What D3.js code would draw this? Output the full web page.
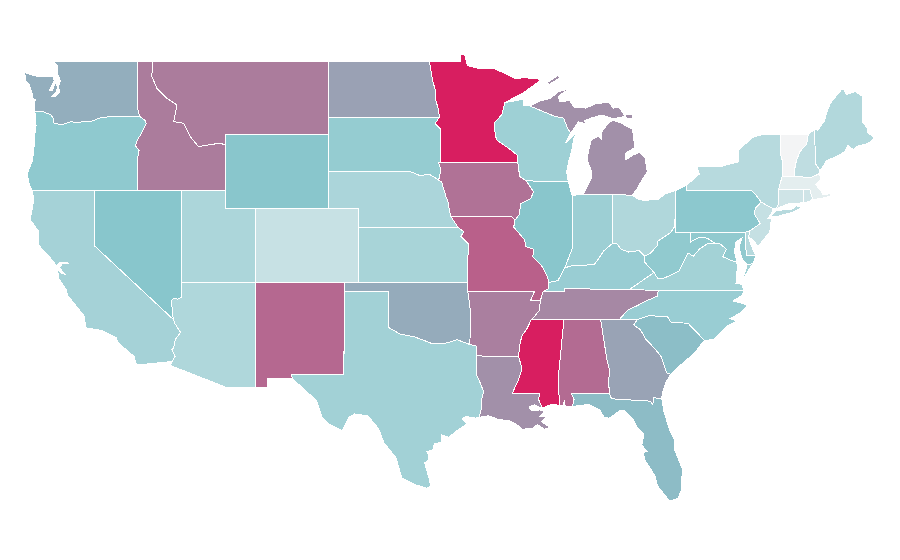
<!DOCTYPE html>
<html>
<head>
<meta charset="utf-8">
<title>US states choropleth</title>
<script src="https://d3js.org/d3.v7.min.js"></script>
<style>
  html, body { margin: 0; background: #fff; }
  svg { display: block; }
  .state { stroke: #fff; stroke-width: 1; shape-rendering: crispEdges; }
</style>
</head>
<body>
<svg width="900" height="560"></svg>
<script>
// values, 0 = palest, 50 = teal, 100 = deep pink
const stateCodes = ["AL","AZ","AR","CA","CO","CT","DE","FL","GA","ID","IL","IN","IA","KS","KY","LA","ME","MD","MA","MI","MN","MS","MO","MT","NE","NV","NH","NJ","NM","NY","NC","ND","OH","OK","OR","PA","RI","SC","SD","TN","TX","UT","VT","VA","WA","WV","WI","WY"];
const stateRates = [77,32,71,36.5,20.5,17,29,53,60.5,72,49.5,40,75,35,42,66,30.5,46,7,66,100,100,80.5,72,33.5,50,24.5,21.5,78,28,42,61,31.5,58,46.5,48,17,52.5,44,68.5,38,33,0,37.5,57,46,39.5,49.5];
const rateStops = [0, 50, 100];
const rateColors = ["#f3f4f5", "#88c6cc", "#d81e60"];

// shared borders, lon/lat
const columbia = [[-116.92,46],[-118.98,46],[-119.3,45.93],[-119.6,45.92],[-120.2,45.73],[-120.65,45.74],[-121.2,45.65],[-121.55,45.72],[-122.1,45.58],[-122.3,45.55],[-122.75,45.65],[-122.8,45.9],[-122.95,46.1],[-123.2,46.15],[-123.45,46.25],[-123.7,46.27],[-124.05,46.27]];
const snake = [[-117.03,43.83],[-116.95,44.15],[-117.2,44.4],[-117.05,44.75],[-116.85,45],[-116.68,45.25],[-116.47,45.6],[-116.55,45.78],[-116.92,46]];
const idahoMontana = [[-116.05,49],[-116.08,48.15],[-115.74,47.52],[-115.06,46.98],[-114.38,46.62],[-114.6,45.71],[-113.93,45.63],[-113.48,44.9],[-112.91,44.36],[-111.55,44.54],[-111.05,44.47]];
const coloradoRiver = [[-114.05,36.2],[-114.35,36.1],[-114.55,36.15],[-114.74,36.05],[-114.7,35.5],[-114.63,35],[-114.5,34.75],[-114.14,34.3],[-114.5,33.9],[-114.6,33.45],[-114.72,33.38],[-114.5,33],[-114.72,32.72]];
const redRiverNorth = [[-97.23,49],[-97.13,48.5],[-97,47.9],[-96.85,47.5],[-96.83,46.95],[-96.6,46.35],[-96.56,45.94]];
const sdMnBorder = [[-96.56,45.94],[-96.85,45.6],[-96.45,45.3],[-96.45,43.5]];
const iowaWest = [[-96.6,43.5],[-96.45,43.1],[-96.6,42.55],[-96.4,42.45],[-96.25,42.05],[-96.1,41.65],[-95.93,41.3],[-95.88,40.9],[-95.77,40.58]];
const nebraskaNorth = [[-104.05,43],[-98.5,43],[-97.9,42.8],[-97.2,42.85],[-96.6,42.55]];
const kansasEast = [[-95.3,40],[-94.9,39.75],[-95.1,39.5],[-94.6,39.1],[-94.62,37]];
const redRiverSouth = [[-100,34.56],[-99.2,34.2],[-98.3,34.07],[-97.72,33.9],[-97.15,33.72],[-96.25,33.68],[-95.35,33.9],[-94.48,33.64],[-94.04,33.55]];
const sabine = [[-94.04,32],[-93.8,31.6],[-93.55,31.1],[-93.72,30.5],[-93.72,30.1],[-93.85,29.7]];
const superiorToIowa = [[-92.1,46.75],[-92.3,46.1],[-92.84,45.63],[-92.75,45],[-92.66,44.72],[-91.9,44.3],[-91.25,43.9],[-91.22,43.5]];
const iowaEastUpper = [[-91.22,43.5],[-91.1,42.75],[-90.65,42.5]];
const iowaIllinois = [[-90.65,42.5],[-90.15,41.9],[-90.35,41.55],[-91.05,41.25],[-91.1,40.7],[-91.42,40.38]];
const missouriIllinois = [[-91.42,40.38],[-91.5,40],[-90.75,39.3],[-90.7,38.95],[-90.15,38.8],[-90.2,38.4],[-89.6,37.9],[-89.2,37.3],[-89.13,37]];
const bootheel = [[-89.13,37],[-89.15,36.65],[-89.5,36.5]];
const riverTennessee = [[-89.5,36.5],[-89.7,36],[-89.75,35.5],[-90.1,35.15],[-90.3,35]];
const riverArkansas = [[-90.3,35],[-90.6,34.5],[-90.95,34.1],[-91.1,33.6],[-91.17,33]];
const riverLouisiana = [[-91.17,33],[-91,32.5],[-90.95,32.3],[-91.2,31.7],[-91.6,31]];
const ohioWest = [[-89.13,37],[-88.5,37.1],[-88.03,37.8]];
const ohioMiddle = [[-88.03,37.8],[-87.55,37.9],[-87,37.9],[-86.5,37.95],[-86,38],[-85.75,38.27],[-85.4,38.7],[-84.82,39.1]];
const ohioEast = [[-84.82,39.1],[-84.5,39.1],[-84.2,38.8],[-83.7,38.65],[-83,38.73],[-82.6,38.42]];
const ohioUpper = [[-82.6,38.42],[-82.2,38.6],[-81.75,39],[-81.7,39.25],[-80.85,39.7],[-80.6,40],[-80.52,40.64]];
const tennesseeNc = [[-81.68,36.59],[-81.73,36.27],[-82.64,35.95],[-83.1,35.75],[-83.77,35.5],[-84.32,35]];
const scNorth = [[-83.1,35],[-82.3,35.2],[-81.05,35.15],[-80.8,34.82],[-79.67,34.8],[-78.55,33.87]];
const savannah = [[-83.1,35],[-83.35,34.7],[-82.9,34.45],[-82.55,33.95],[-81.9,33.4],[-81.5,33],[-81.1,32.1],[-80.85,32.03]];
const gaAlBorder = [[-85.6,35],[-85.18,32.87],[-85,32.3],[-85.05,31.55],[-85,31]];
const mississippiAlabama = [[-88.2,35],[-88.1,34.9],[-88.47,31.9],[-88.4,30.35]];
const potomac = [[-76.35,38.1],[-76.9,38.25],[-77.3,38.4],[-77.05,38.8],[-77.5,39.1],[-77.83,39.13]];
const mdWvBorder = [[-77.83,39.13],[-78.35,39.4],[-78.9,39.45],[-79.48,39.2],[-79.48,39.72]];
const vaWvBorder = [[-77.83,39.13],[-78.35,39.1],[-78.9,38.8],[-79.3,38.42],[-79.65,38.6],[-80.3,37.6],[-81.25,37.25],[-81.7,37.2],[-81.97,37.54]];
const delawareRiver = [[-75.35,42],[-75.05,41.75],[-74.7,41.36]];
const pennNj = [[-74.7,41.36],[-75.1,41],[-75.15,40.7],[-74.75,40.2],[-75.45,39.8]];
const vermontNh = [[-71.5,45],[-71.6,44.5],[-72.05,44.1],[-72.3,43.6],[-72.45,43],[-72.46,42.73]];
const vermontNy = [[-73.35,45],[-73.4,44],[-73.25,43.6],[-73.27,42.75]];
const nhMaine = [[-71.08,45.3],[-70.98,43.4],[-70.7,43.07]];
const upperMichiganSouth = [[-87.62,45.1],[-87.85,45.35],[-88.1,45.9],[-88.7,46],[-89.1,46.13],[-90.42,46.57]];

const rev = a => a.slice().reverse();

const alabama = [...rev(mississippiAlabama),...gaAlBorder,[-87.6,31],[-87.4,30.65],[-87.52,30.28],[-88,30.25],[-88.05,30.65],[-88.15,30.35]];
const arizona = [[-114.05,37],[-109.05,37],[-109.05,31.33],[-111.07,31.33],[-114.81,32.5],...rev(coloradoRiver)];
const arkansas = [[-94.62,36.5],[-90.1,36.5],[-90.37,36],[-89.7,36],...riverTennessee.slice(2),...riverArkansas,[-94.04,33.02],[-94.04,33.55],[-94.48,33.64],[-94.43,35.4]];
const california = [[-120,42],[-120,39],[-114.63,35],[-114.5,34.75],[-114.14,34.3],[-114.5,33.9],[-114.6,33.45],[-114.72,33.38],[-114.5,33],[-114.72,32.72],[-117.12,32.53],[-117.3,33],[-118.4,33.75],[-118.5,34],[-119.5,34.4],[-120.6,34.55],[-120.65,35.15],[-121.8,36.3],[-121.9,36.6],[-122.4,37.2],[-122.5,37.75],[-122.25,37.5],[-122,37.45],[-122.35,37.8],[-122.2,38],[-121.75,38.05],[-122.1,38.1],[-122.45,38.05],[-122.5,37.85],[-122.95,38.3],[-123.75,39],[-123.8,39.8],[-124.35,40.4],[-124.1,41.5],[-124.21,42]];
const colorado = [[-109.05,41],[-102.05,41],[-102.05,37],[-109.05,37]];
const connecticut = [[-73.5,42.05],[-71.8,42.02],[-71.85,41.32],[-72.9,41.25],[-73.65,41],[-73.5,41.3]];
const delaware = [[-75.79,39.72],[-75.45,39.8],[-75.55,39.45],[-75.4,39.05],[-75.05,38.45],[-75.7,38.46]];
const florida = [[-87.6,31],[-85,31],[-84.86,30.7],[-82.2,30.57],[-82.05,30.37],[-82,30.75],[-81.45,30.72],[-81.3,30],[-80.9,29],[-80.55,28.4],[-80.6,28],[-80.05,26.9],[-80.1,25.8],[-80.35,25.3],[-80.9,25.15],[-81.15,25.4],[-81.75,26],[-81.9,26.5],[-82.2,26.9],[-82.6,27.4],[-82.7,27.8],[-82.45,27.85],[-82.8,28.2],[-82.65,28.8],[-83.1,29.15],[-83.4,29.6],[-83.95,30.05],[-84.3,30.05],[-85,29.65],[-85.35,29.68],[-85.65,30.1],[-86.4,30.4],[-87.52,30.28],[-87.4,30.65]];
const georgia = [...gaAlBorder,[-84.86,30.7],[-82.2,30.57],[-82.05,30.37],[-82,30.75],[-81.45,30.72],[-81.4,31],[-81.15,31.6],...rev(savannah)];
const idaho = [[-117.03,49],...idahoMontana,[-111.05,42],[-117.03,42],...snake,[-117.04,46.42]];
const illinois = [[-87.8,42.49],...iowaIllinois,...missouriIllinois.slice(1),...ohioWest.slice(1),[-87.97,37.87],[-87.52,38.86],[-87.53,41.7],[-87.6,41.85]];
const indiana = [[-87.53,41.7],[-87.2,41.75],[-84.8,41.76],...rev(ohioMiddle),[-87.52,38.86]];
const iowa = [[-96.6,43.5],...iowaEastUpper,...iowaIllinois.slice(1),[-91.7,40.6],...rev(iowaWest)];
const kansas = [[-102.05,40],...kansasEast,[-102.05,37]];
const kentucky = [...bootheel.slice(1),[-88.05,36.5],[-88.07,36.68],[-83.68,36.6],[-81.97,37.54],[-82.6,38.1],...rev(ohioEast),...rev(ohioMiddle),...rev(ohioWest)];
const louisiana = [[-94.04,33.02],...riverLouisiana,[-89.73,31],[-89.82,30.67],[-89.55,30.18],[-89.9,30.3],[-90.1,30.38],[-90.45,30.25],[-90.3,30.05],[-89.95,30.05],[-89.75,30.1],[-89.4,30],[-89.7,29.75],[-89.3,29.75],[-89.6,29.45],[-89.05,29.15],[-89.4,29.05],[-89.9,29.3],[-90.2,29.1],[-90.9,29.05],[-91.3,29.3],[-91.8,29.5],[-92.2,29.55],[-92.6,29.6],[-93.2,29.78],...rev(sabine)];
const maine = [[-71.08,45.3],[-70.85,45.25],[-70.4,45.75],[-70.25,46.2],[-70,46.7],[-69.23,47.46],[-69.05,47.42],[-68.9,47.18],[-68.3,47.35],[-67.8,47.07],[-67.8,45.7],[-67.45,45.3],[-67.45,45.1],[-67,44.85],[-67.3,44.6],[-67.6,44.5],[-68.1,44.4],[-68.45,44.2],[-68.8,44.45],[-69,44.1],[-69.3,43.95],[-69.8,43.75],[-70.25,43.6],[-70.55,43.2],[-70.7,43.07],[-70.98,43.4]];
const maryland = [[-79.48,39.72],[-75.79,39.72],[-75.7,38.46],[-75.05,38.45],[-75.25,38.03],[-75.65,37.95],[-76,38.3],[-76.2,38.9],[-76,39.4],[-76.4,39.2],[-76.5,38.7],...potomac,...mdWvBorder.slice(1)];
const massachusetts = [[-73.5,42.05],[-73.27,42.75],[-72.46,42.73],[-71.3,42.7],[-70.8,42.87],[-70.6,42.65],[-71,42.3],[-70.6,41.95],[-70.5,41.78],[-70.05,41.8],[-70.2,42.07],[-69.95,41.7],[-70.6,41.55],[-71.15,41.5],[-71.2,41.5],[-71.38,42.02],[-71.8,42.02]];
const lowerMichigan = [[-86.8,41.76],[-86.25,42.6],[-86.2,43],[-86.5,43.6],[-86.45,44],[-86.25,44.7],[-85.75,44.95],[-85.55,44.75],[-85.5,45.2],[-85,45.7],[-84.7,45.78],[-84.2,45.63],[-83.45,45.3],[-83.35,44.9],[-83.3,44.3],[-83.9,44],[-83.9,43.65],[-83.4,43.9],[-82.95,44.05],[-82.6,43.8],[-82.42,43],[-82.9,42.4],[-83.15,42.05],[-83.45,41.73],[-84.8,41.76]];
const upperMichigan = [...upperMichiganSouth,[-89.7,46.83],[-89,46.98],[-88.45,47.35],[-87.8,47.47],[-88.45,47.1],[-88.4,46.8],[-87.7,46.85],[-87.4,46.5],[-86.6,46.45],[-85.9,46.7],[-85,46.75],[-84.75,46.45],[-84.35,46.5],[-84.1,46.2],[-83.9,46],[-84.72,45.87],[-85.5,46.08],[-86.3,45.9],[-86.7,45.75],[-86.6,45.6],[-87.1,45.7]];
const isleRoyale = [[-89.25,47.82],[-88.5,48.22],[-88.4,48.08],[-89.1,47.72]];
const drummond = [[-83.95,46.12],[-83.4,46.08],[-83.45,45.88],[-83.9,45.92]];
const minnesota = [...redRiverNorth,...sdMnBorder.slice(1),...rev(superiorToIowa),[-90.8,47.3],[-89.6,48],[-90.75,48.1],[-91.4,48.05],[-92,48.3],[-92.95,48.62],[-93.85,48.6],[-94.65,48.75],[-94.82,49.33],[-95.15,49.38],[-95.15,49]];
const mississippi = [...rev(riverLouisiana),...rev(riverArkansas),...mississippiAlabama,[-88.9,30.4],[-89.3,30.3],[-89.55,30.18],[-89.82,30.67],[-89.73,31]];
const missouri = [[-95.77,40.58],[-91.7,40.6],[-91.42,40.38],...missouriIllinois.slice(1),...bootheel.slice(1),[-89.7,36],[-90.37,36],[-90.1,36.5],[-94.62,36.5],...rev(kansasEast)];
const montana = [[-104.05,49],[-104.05,45],[-111.05,45],...rev(idahoMontana)];
const nebraska = [...nebraskaNorth,...iowaWest.slice(3),[-95.3,40],[-102.05,40],[-102.05,41],[-104.05,41]];
const nevada = [[-120,42],[-114.04,42],...coloradoRiver.slice(0,6),[-120,39]];
const newHampshire = [...vermontNh,[-71.3,42.7],[-70.8,42.87],...rev(nhMaine)];
const newJersey = [...pennNj,[-75.55,39.5],[-75.15,39.2],[-74.9,38.95],[-74.1,39.75],[-74,40.45],[-74.25,40.48],[-74,40.7],[-73.9,41]];
const newMexico = [[-109.05,37],[-103,37],[-103.04,32],[-106.62,32],[-106.53,31.78],[-108.2,31.78],[-108.2,31.33],[-109.05,31.33]];
const newYork = [[-79.76,42],[-79.76,42.27],[-78.9,42.87],[-79.05,43.27],[-77.5,43.27],[-76.2,43.55],[-76.25,44.15],[-75.3,44.85],[-74.7,45],...vermontNy,[-73.5,42.05],[-73.5,41.3],[-73.65,41],[-73.9,41],...rev(delawareRiver)];
const longIsland = [[-74,40.6],[-73.7,40.9],[-72.6,40.97],[-72.3,41.15],[-71.9,41.05],[-72.6,40.8],[-73.6,40.58]];
const northCarolina = [[-84.32,35],...rev(tennesseeNc),[-75.87,36.55],[-76,36.3],[-76.6,36],[-75.9,35.85],[-75.65,35.75],[-76.1,35.35],[-76.8,35.05],[-76.35,34.9],[-77,34.65],[-77.9,33.9],...rev(scNorth)];
const northDakota = [[-104.05,49],...redRiverNorth,[-104.05,45.94]];
const ohio = [[-84.8,41.76],[-83.45,41.73],[-83,41.5],[-82.7,41.45],[-81.7,41.5],[-81.2,41.8],[-80.52,41.98],...rev(ohioUpper),...rev(ohioEast)];
const oklahoma = [[-103,37],[-94.62,37],[-94.62,36.5],[-94.43,35.4],[-94.48,33.64],...rev(redRiverSouth.slice(0,8)),[-100,36.5],[-103,36.5]];
const oregon = [...columbia,[-123.98,46],[-123.95,45.5],[-124.05,44.9],[-124.1,44.2],[-124.2,43.6],[-124.4,43.2],[-124.55,42.84],[-124.4,42.3],[-124.21,42],[-117.03,42],...snake];
const pennsylvania = [[-80.52,41.98],[-79.76,42.27],[-79.76,42],...delawareRiver,...pennNj.slice(1),[-75.79,39.72],[-80.52,39.72]];
const rhodeIsland = [[-71.8,42.02],[-71.38,42.02],[-71.2,41.5],[-71.5,41.37],[-71.85,41.32]];
const southCarolina = [...scNorth,[-79.2,33.2],[-79.9,32.7],[-80.45,32.35],...rev(savannah)];
const southDakota = [[-104.05,45.94],...sdMnBorder,...iowaWest.slice(0,3),...rev(nebraskaNorth)];
const tennessee = [...riverTennessee,[-88.2,35],[-85.6,35],...rev(tennesseeNc),[-83.68,36.6],[-88.07,36.68],[-88.05,36.5]];
const texas = [[-103,36.5],[-100,36.5],...redRiverSouth,...sabine,[-94.1,29.65],[-94.75,29.75],[-95,29.6],[-94.7,29.35],[-95.1,29.1],[-95.5,28.9],[-95.9,28.6],[-96.4,28.75],[-96.4,28.35],[-96.9,28.25],[-97,27.9],[-97.4,27.85],[-97.25,27.6],[-97.35,27.3],[-97.55,27.25],[-97.4,26.8],[-97.25,26.4],[-97.15,25.96],[-97.4,25.85],[-98.2,26.05],[-99.1,26.4],[-99.5,27.5],[-100.3,28.3],[-100.7,29.1],[-101.4,29.77],[-102.3,29.88],[-102.7,29.7],[-103.15,28.98],[-104,29.3],[-104.5,29.65],[-104.9,30.6],[-106,31.4],[-106.53,31.78],[-106.62,32],[-103.04,32]];
const utah = [[-114.04,42],[-111.05,42],[-111.05,41],[-109.05,41],[-109.05,37],[-114.05,37]];
const vermont = [...vermontNy,...rev(vermontNh)];
const virginia = [[-83.68,36.6],[-75.87,36.55],[-76,36.9],[-76.4,36.95],[-76.35,37.5],[-76.3,37.9],...potomac,...vaWvBorder.slice(1)];
const virginiaShore = [[-75.95,37.15],[-75.6,37.6],[-75.25,38.03],[-75.65,37.95]];
const washington = [[-117.03,49],[-117.04,46.42],...columbia,[-124.07,46.7],[-124,46.9],[-124.15,46.95],[-124.2,47.2],[-124.4,47.7],[-124.65,47.95],[-124.72,48.38],[-124.4,48.28],[-123.9,48.17],[-123.2,48.15],[-122.75,48.13],[-122.72,47.9],[-123.05,47.4],[-122.85,47.42],[-122.6,47.88],[-122.5,47.55],[-122.6,47.28],[-122.9,47.08],[-122.6,47.1],[-122.38,47.3],[-122.4,47.65],[-122.3,47.95],[-122.5,48.3],[-122.5,48.75],[-122.76,49]];
const westVirginia = [...ohioUpper,[-80.52,39.72],...rev(mdWvBorder),...vaWvBorder.slice(1),[-82.6,38.1]];
const wisconsin = [...superiorToIowa,...iowaEastUpper.slice(1),[-87.8,42.49],[-87.9,43],[-87.75,43.6],[-87.55,44.2],[-87.4,44.85],[-87.05,45.28],[-87.4,45],[-88,44.55],...upperMichiganSouth,[-90.85,46.6],[-90.8,46.95],[-91.2,46.87]];
const wyoming = [[-111.05,45],[-104.05,45],[-104.05,41],[-111.05,41]];

const stateShapes = [[alabama],[arizona],[arkansas],[california],[colorado],[connecticut],[delaware],[florida],[georgia],[idaho],[illinois],[indiana],[iowa],[kansas],[kentucky],[louisiana],[maine],[maryland],[massachusetts],[lowerMichigan,upperMichigan,isleRoyale,drummond],[minnesota],[mississippi],[missouri],[montana],[nebraska],[nevada],[newHampshire],[newJersey],[newMexico],[newYork,longIsland],[northCarolina],[northDakota],[ohio],[oklahoma],[oregon],[pennsylvania],[rhodeIsland],[southCarolina],[southDakota],[tennessee],[texas],[utah],[vermont],[virginia,virginiaShore],[washington],[westVirginia],[wisconsin],[wyoming]];

const features = stateCodes.map((code, i) => ({
  type: "Feature",
  id: code,
  properties: { rate: stateRates[i] },
  // geojson rings have to be closed or the stream drops the last corner
  geometry: { type: "MultiPolygon", coordinates: stateShapes[i].map(ring => [[...ring, ring[0]]]) }
}));

const x = d3.scaleLinear().domain([-125, -67]).range([20.6, 874.4]);
const y = d3.scaleLinear().domain([49, 25]).range([61, 504]);
const color = d3.scaleLinear().domain(rateStops).range(rateColors);

const path = d3.geoPath(d3.geoTransform({
  point: function(lon, lat) { this.stream.point(x(lon), y(lat)); }
}));

d3.select("svg").selectAll("path")
  .data(features)
  .enter()
  .append("path")
  .attr("class", "state")
  .attr("d", path)
  .attr("fill", d => color(d.properties.rate));
</script>
</body>
</html>
